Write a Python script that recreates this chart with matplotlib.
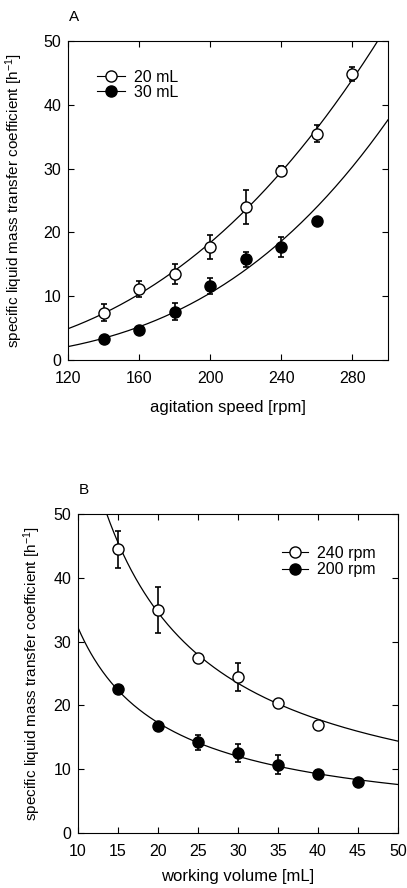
import numpy as np
import matplotlib
matplotlib.use("Agg")
import matplotlib.pyplot as plt

plt.rcParams['font.family'] = ['Liberation Sans', 'DejaVu Sans']
plt.rcParams['axes.unicode_minus'] = False
plt.rcParams['mathtext.default'] = 'regular'

# Panel A data
speed = [140, 160, 180, 200, 220, 240, 260, 280]
kla_20 = [7.4, 11.1, 13.5, 17.7, 24.0, 29.7, 35.5, 44.9]
err_20 = [1.3, 1.3, 1.6, 1.9, 2.7, 0.7, 1.4, 1.1]
speed_30 = [140, 160, 180, 200, 220, 240, 260]
kla_30 = [3.3, 4.7, 7.6, 11.6, 15.8, 17.7, 21.8]
err_30 = [0.0, 0.0, 1.4, 1.3, 1.2, 1.6, 0.0]
# power-law fit coefficients: y = k * (x / x_ref) ** n
fitA_xref = 120
fitA_20 = (4.9, 2.59)
fitA_30 = (2.1, 3.15)

# Panel B data
volume = [15, 20, 25, 30, 35, 40]
kla_240 = [44.5, 34.9, 27.5, 24.5, 20.4, 17.0]
err_240 = [2.9, 3.6, 0.0, 2.2, 0.0, 0.0]
volume_200 = [15, 20, 25, 30, 35, 40, 45]
kla_200 = [22.6, 16.8, 14.2, 12.6, 10.7, 9.3, 8.0]
err_200 = [0.5, 0.4, 1.2, 1.4, 1.5, 0.5, 0.0]
fitB_xref = 50
fitB_240 = (14.4, -0.956)
fitB_200 = (7.6, -0.897)

W, H = 407, 888
fig = plt.figure(figsize=(W / 100, H / 100), dpi=100)

def add_ax(l, r, t, b):
    return fig.add_axes([l / W, 1 - b / H, (r - l) / W, (b - t) / H])

axA = add_ax(68, 388, 41, 360)
axB = add_ax(78, 398, 514, 833)

FS = 11.5
LFS = 11
XFS = 12
ylabel = 'specific liquid mass transfer coefficient [h$^{-1}$]'

def style(ax):
    ax.tick_params(direction='in', top=True, right=True, length=4, width=0.8,
                   labelsize=FS)
    ax.tick_params(axis='x', pad=8)
    ax.tick_params(axis='y', pad=5)
    for s in ax.spines.values():
        s.set_linewidth(0.8)

def series(ax, x, y, e, filled, label):
    ax.errorbar(x, y, yerr=e, fmt='none', ecolor='black', elinewidth=1.2,
                capsize=2.2, capthick=1.2, zorder=3)
    ax.plot(x, y, 'o', ms=8, mec='black', mew=1.0,
            mfc='black' if filled else 'white', zorder=4)
    ax.plot([], [], '-o', color='black', lw=0.8, ms=8, mec='black', mew=1.0,
            mfc='black' if filled else 'white', label=label)

# Panel A
xf = np.linspace(120, 300, 300)
for (k, n) in (fitA_20, fitA_30):
    axA.plot(xf, k * (xf / fitA_xref) ** n, color='black', lw=0.9, zorder=2)
series(axA, speed, kla_20, err_20, False, '20 mL')
series(axA, speed_30, kla_30, err_30, True, '30 mL')
axA.set_xlim(120, 300)
axA.set_ylim(0, 50)
axA.set_xticks([120, 160, 200, 240, 280])
axA.set_yticks([0, 10, 20, 30, 40, 50])
axA.set_xlabel('agitation speed [rpm]', fontsize=XFS, labelpad=10)
axA.set_ylabel(ylabel, fontsize=LFS)
axA.yaxis.set_label_coords((25 - 68) / 320, 0.5)
style(axA)
axA.legend(loc='upper left', bbox_to_anchor=(0.09, 0.91), frameon=False,
           fontsize=FS, handlelength=1.75, handletextpad=0.6, labelspacing=0.0,
           borderpad=0, borderaxespad=0)
fig.text(69 / W, 1 - 17 / H, 'A', fontsize=LFS, va='center', ha='left')

# Panel B
xb = np.linspace(10, 50, 300)
for (k, n) in (fitB_240, fitB_200):
    axB.plot(xb, k * (xb / fitB_xref) ** n, color='black', lw=0.9, zorder=2)
series(axB, volume, kla_240, err_240, False, '240 rpm')
series(axB, volume_200, kla_200, err_200, True, '200 rpm')
axB.set_xlim(10, 50)
axB.set_ylim(0, 50)
axB.set_xticks([10, 15, 20, 25, 30, 35, 40, 45, 50])
axB.set_yticks([0, 10, 20, 30, 40, 50])
axB.set_xlabel('working volume [mL]', fontsize=XFS, labelpad=7)
axB.set_ylabel(ylabel, fontsize=LFS)
axB.yaxis.set_label_coords((43 - 78) / 320, 0.5)
style(axB)
axB.legend(loc='upper left', bbox_to_anchor=(0.6375, 0.90), frameon=False,
           fontsize=FS, handlelength=1.6, handletextpad=0.6, labelspacing=0.08,
           borderpad=0, borderaxespad=0)
fig.text(79 / W, 1 - 490 / H, 'B', fontsize=LFS, va='center', ha='left')

fig.savefig('out.png', dpi=100)
